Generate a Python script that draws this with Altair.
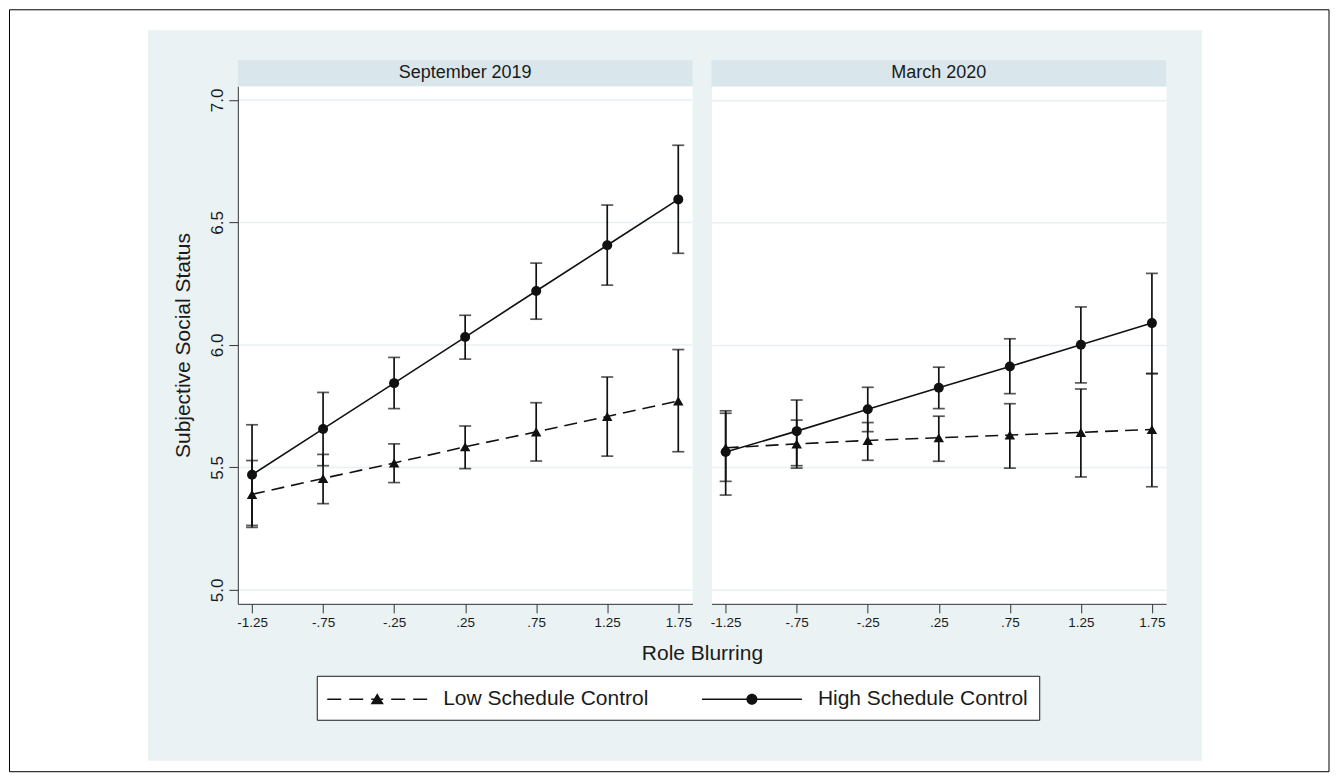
import altair as alt
import pandas as pd

# ---------------- data ----------------
x_vals = [-1.25, -0.75, -0.25, 0.25, 0.75, 1.25, 1.75]
x_labels = ["-1.25", "-.75", "-.25", ".25", ".75", "1.25", "1.75"]
y_ticks = [5.0, 5.5, 6.0, 6.5, 7.0]
panels = ["September 2019", "March 2020"]
groups = ["Low Schedule Control", "High Schedule Control"]

sep_low_mean = [5.390, 5.455, 5.518, 5.584, 5.645, 5.708, 5.771]
sep_low_lo = [5.255, 5.352, 5.438, 5.495, 5.526, 5.546, 5.564]
sep_low_hi = [5.528, 5.553, 5.596, 5.669, 5.764, 5.869, 5.981]
sep_high_mean = [5.470, 5.657, 5.844, 6.032, 6.220, 6.407, 6.594]
sep_high_lo = [5.263, 5.507, 5.740, 5.942, 6.105, 6.244, 6.374]
sep_high_hi = [5.674, 5.806, 5.949, 6.121, 6.334, 6.571, 6.815]

mar_low_mean = [5.580, 5.596, 5.610, 5.621, 5.632, 5.643, 5.655]
mar_low_lo = [5.443, 5.497, 5.529, 5.525, 5.497, 5.461, 5.421]
mar_low_hi = [5.721, 5.693, 5.683, 5.709, 5.760, 5.820, 5.883]
mar_high_mean = [5.563, 5.648, 5.737, 5.825, 5.912, 6.001, 6.089]
mar_high_lo = [5.387, 5.507, 5.646, 5.740, 5.801, 5.845, 5.883]
mar_high_hi = [5.731, 5.775, 5.827, 5.909, 6.025, 6.155, 6.292]

# ---------------- style ----------------
FONT = "Liberation Sans"
TXT = "#1a1a1a"
INK = "#111111"
AX = "#333333"
BG = "#EAF2F3"
STRIP = "#D9E6EC"
GRID = "#E8F0F2"
W, H = 455, 518

XS = alt.Scale(domain=[-1.35, 1.85], nice=False, zero=False)
YS = alt.Scale(domain=[4.943, 7.056], nice=False, zero=False)

lab_expr = "".join(
    f"datum.value == {v} ? '{l}' : " for v, l in zip(x_vals, x_labels)
) + "''"


def make_df(low_m, low_lo, low_hi, high_m, high_lo, high_hi):
    return pd.DataFrame({
        "x": x_vals * 2,
        "group": [groups[0]] * len(x_vals) + [groups[1]] * len(x_vals),
        "mean": low_m + high_m,
        "lo": low_lo + high_lo,
        "hi": low_hi + high_hi,
    })


def x_axis(with_title):
    kw = dict(values=x_vals, labelExpr=lab_expr, grid=False, tickSize=9,
              tickColor=AX, domainColor=AX, tickWidth=1, domainWidth=1,
              labelFontSize=13.5, labelColor=TXT, labelPadding=10,
              labelBaseline="middle", labelAlign="center", labelFont=FONT,
              labelFlush=False, labelOverlap=False, zindex=1)
    if with_title:
        kw.update(title="Role Blurring", titleX=464.5, titleY=50,
                  titleBaseline="middle", titleAlign="center",
                  titleFontSize=21, titleFontWeight="normal", titleFont=FONT,
                  titleColor=TXT)
    else:
        kw.update(title=None)
    return alt.Axis(**kw)


Y_AXIS_LEFT = alt.Axis(values=y_ticks, format=".1f", grid=False, tickSize=9,
                       tickColor=AX, domainColor=AX, tickWidth=1, domainWidth=1,
                       labelAngle=270, labelAlign="center",
                       labelBaseline="alphabetic", labelPadding=6,
                       labelFontSize=17, labelColor=TXT, labelFont=FONT,
                       labelFlush=False, labelOverlap=False,
                       title="Subjective Social Status", titleAngle=270,
                       titleX=-54, titleY=259, titleAlign="center",
                       titleBaseline="middle", titleFontSize=21,
                       titleFontWeight="normal", titleFont=FONT,
                       titleColor=TXT, zindex=1)
Y_AXIS_RIGHT = alt.Axis(values=y_ticks, grid=True, gridColor=GRID,
                        gridWidth=1.5, labels=False, ticks=False,
                        domain=False, title=None)


# legend glyphs (line + marker) as filled paths; 1 unit = 12 px
def bar_path(a, b, t=0.07):
    return f"M{a},{-t}L{b},{-t}L{b},{t}L{a},{t}Z"


PATH_LOW = "".join(bar_path(a, b) for a, b in
                   [(-4.167, -3.0), (-2.333, -1.167), (-0.5, 0.5), (1.167, 2.333), (3.0, 4.167)]
                   ) + "M0,-0.5L0.55,0.42L-0.55,0.42Z"
PATH_HIGH = bar_path(-4.167, 4.167) + \
    "M0.46,0A0.46,0.46,0,1,1,-0.46,0A0.46,0.46,0,1,1,0.46,0Z"


def panel(df, title, xaxis, yaxis, left):
    X = lambda: alt.X("x:Q", scale=XS, axis=xaxis)
    Y = lambda f: alt.Y(f, scale=YS, axis=yaxis)
    base = alt.Chart(df)
    tdf = pd.DataFrame({"p": [title]})
    layers = []
    if left:
        layers += [
            alt.Chart(tdf).mark_rect(fill="white", stroke="black", strokeWidth=1).encode(
                x=alt.value(-228.5), x2=alt.value(1092), y=alt.value(-76.5), y2=alt.value(686)),
            alt.Chart(tdf).mark_rect(fill=BG).encode(
                x=alt.value(-90), x2=alt.value(965), y=alt.value(-56), y2=alt.value(675)),
            alt.Chart(tdf).mark_rect(fill="white").encode(
                x=alt.value(0), x2=alt.value(W), y=alt.value(0), y2=alt.value(H)),
            alt.Chart(pd.DataFrame({"v": y_ticks})).mark_rule(color=GRID, strokeWidth=1.5).encode(
                y=alt.Y("v:Q", scale=YS, axis=yaxis)),
        ]
    layers += [
        alt.Chart(tdf).mark_rect(fill=STRIP).encode(
            x=alt.value(0), x2=alt.value(W), y=alt.value(-26), y2=alt.value(0)),
        alt.Chart(tdf).mark_text(font=FONT, fontSize=18, color=TXT, align="center",
                                 baseline="middle").encode(
            text="p:N", x=alt.value(W / 2), y=alt.value(-13)),
        base.mark_rule(color=INK, strokeWidth=1.7).encode(x=X(), y=Y("lo:Q"), y2="hi:Q"),
        base.mark_tick(orient="horizontal", size=12, thickness=1.7, color=INK).encode(
            x=X(), y=Y("lo:Q")),
        base.mark_tick(orient="horizontal", size=12, thickness=1.7, color=INK).encode(
            x=X(), y=Y("hi:Q")),
        base.transform_filter(alt.datum.group == groups[0]).mark_line(
            color=INK, strokeWidth=1.6, strokeDash=[13, 7]).encode(x=X(), y=Y("mean:Q")),
        base.transform_filter(alt.datum.group == groups[1]).mark_line(
            color=INK, strokeWidth=1.6).encode(x=X(), y=Y("mean:Q")),
        base.transform_filter(alt.datum.group == groups[0]).mark_point(
            filled=True, shape="triangle-up", size=110, color=INK, opacity=1).encode(
            x=X(), y=Y("mean:Q")),
        base.transform_filter(alt.datum.group == groups[1]).mark_point(
            filled=True, shape="circle", size=100, color=INK, opacity=1).encode(
            x=X(), y=Y("mean:Q")),
    ]
    if left:
        layers.append(
            alt.Chart(pd.DataFrame({"group": groups})).transform_filter("false").mark_point(
                filled=False, size=576, fill=INK, stroke=INK, strokeWidth=1.6, opacity=1
            ).encode(
                shape=alt.Shape("group:N",
                                scale=alt.Scale(domain=groups, range=[PATH_LOW, PATH_HIGH]),
                                legend=alt.Legend(
                                    orient="none", legendX=79, legendY=590,
                                    direction="horizontal", title=None,
                                    padding=10.5, strokeColor=TXT, fillColor="white",
                                    labelFontSize=21, labelFont=FONT, labelColor=TXT,
                                    labelLimit=500, labelOffset=53, symbolOffset=37,
                                    symbolSize=576, symbolStrokeWidth=1.6,
                                    symbolStrokeColor=INK, symbolFillColor=INK,
                                    symbolOpacity=1, columnPadding=49))
            )
        )
    return alt.layer(*layers).properties(width=W, height=H)


left = panel(make_df(sep_low_mean, sep_low_lo, sep_low_hi,
                     sep_high_mean, sep_high_lo, sep_high_hi),
             panels[0], x_axis(True), Y_AXIS_LEFT, True)
right = panel(make_df(mar_low_mean, mar_low_lo, mar_low_hi,
                      mar_high_mean, mar_high_lo, mar_high_hi),
              panels[1], x_axis(False), Y_AXIS_RIGHT, False)

chart = alt.hconcat(left, right, spacing=19, bounds="flush").properties(
    padding=0, background="white"
).configure_view(fill="white", stroke="transparent")

chart.save("out.html", embed_options={"renderer": "svg", "actions": False})
